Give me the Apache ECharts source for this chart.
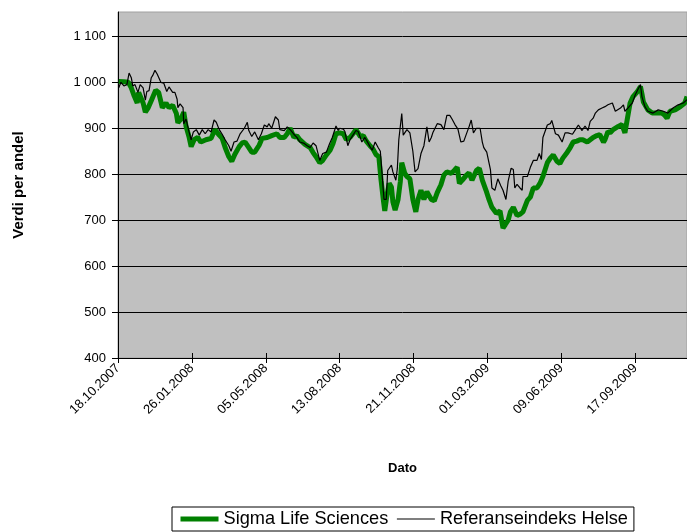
<!DOCTYPE html>
<html>
<head>
<meta charset="utf-8">
<script src="https://cdn.jsdelivr.net/npm/echarts@6/dist/echarts.min.js"></script>
<style>
html,body{margin:0;padding:0;background:#fff;}
#chart{width:687px;height:532px;}
</style>
</head>
<body>
<div id="chart"></div>
<script>
// Start date of the x axis; x values are days since this date
const startDate = Date.UTC(2007, 9, 18);

// Sigma Life Sciences
const sigmaDays = [1,8,14,18,22,26,28,34,37,41,45,51,55,60,65,69,74,79,81,85,89,92,96,99,103,108,112,119,126,131,137,141,145,150,154,158,164,168,172,177,181,185,191,195,202,208,215,219,225,229,233,238,242,246,253,260,264,268,273,277,282,287,291,295,300,305,309,314,318,322,328,332,336,341,345,349,353,356,359,361,364,367,370,372,375,379,382,384,388,391,395,399,403,406,410,414,418,424,428,432,437,441,445,451,455,459,462,466,471,475,479,485,489,493,498,502,506,512,517,521,524,528,531,535,540,544,548,554,558,562,567,571,575,581,585,589,594,598,602,608,612,616,621,625,629,635,639,643,648,652,657,659,663,666,670,677,682,686,689,693,697,703,707,709,711,717,723,730,736,740,743,747,754,761,767,770];
const sigmaValues = [1002,1001,1000,988,970,955,978,955,935,945,960,983,978,945,955,945,950,932,912,920,935,905,882,860,875,880,870,875,878,897,885,878,858,838,828,843,860,868,870,858,848,848,863,878,880,884,888,880,880,888,900,880,884,875,865,858,847,838,825,830,842,852,867,888,890,888,875,880,888,897,882,884,872,862,855,843,838,787,745,720,755,780,772,740,722,745,783,825,802,795,790,745,718,745,765,745,762,745,742,760,777,798,805,802,808,815,780,787,797,803,787,808,813,787,765,745,728,715,720,683,690,700,718,728,710,713,718,743,750,770,770,780,795,825,835,842,828,823,835,848,858,870,872,875,875,870,875,880,884,886,870,875,893,890,897,904,908,890,918,955,969,980,991,975,957,940,933,933,933,928,922,937,940,947,955,969];

// Referanseindeks Helse
const refDays = [1,4,8,12,15,18,20,23,27,30,34,37,39,42,45,47,50,53,55,58,62,66,69,74,77,80,81,84,88,89,92,96,99,102,106,110,114,118,122,126,130,133,137,141,145,150,153,157,161,165,171,175,177,181,185,190,194,198,202,204,208,213,217,219,225,229,233,238,242,246,252,256,260,264,268,273,277,282,286,290,295,298,300,305,307,311,314,318,322,325,330,334,337,341,344,348,352,355,357,360,363,365,370,372,376,378,380,384,386,388,391,395,399,402,406,410,414,418,421,424,426,432,437,441,445,449,452,456,460,464,468,472,475,478,481,485,487,490,493,495,499,504,506,510,514,518,521,525,528,532,535,537,540,544,547,548,554,558,562,567,570,573,575,581,585,587,592,596,601,605,609,615,619,623,628,632,636,639,643,646,650,655,659,663,669,673,675,680,684,686,690,696,700,704,707,709,713,717,724,731,738,744,751,758,765,770];
const refValues = [988,1000,992,995,1020,1010,992,995,978,995,988,961,980,982,1010,1015,1026,1018,1022,1000,998,980,990,978,978,963,945,953,945,910,920,893,875,892,897,885,897,888,897,892,918,913,897,887,875,862,850,870,872,887,900,913,895,882,892,875,888,907,903,910,900,925,918,897,895,903,897,887,880,870,867,862,858,868,862,830,845,848,865,880,905,895,900,898,893,862,875,885,895,893,870,880,872,860,852,870,858,850,808,745,745,808,820,805,787,812,875,932,885,890,897,890,850,805,812,845,862,903,870,880,890,910,908,897,928,928,920,908,898,870,872,890,903,918,890,900,897,900,870,858,848,810,770,765,790,775,765,745,785,813,810,770,778,770,765,795,795,815,830,830,845,832,880,907,910,917,888,885,870,890,890,887,897,907,895,905,895,915,922,933,940,944,947,951,955,937,935,944,951,937,944,955,973,986,995,969,947,937,933,940,937,933,944,951,955,962];

// Axis ticks
const yTicks = [400,500,600,700,800,900,1000,1100];
const xMaxDay = 770;

function pairs(xs, ys){ return xs.map((x,i)=>[x, ys[i]]); }
function fmtDate(d){
  const t = new Date(startDate + d*86400000);
  const dd = String(t.getUTCDate()).padStart(2,'0');
  const mm = String(t.getUTCMonth()+1).padStart(2,'0');
  return dd + '.' + mm + '.' + t.getUTCFullYear();
}

const font = 'Liberation Sans, Arial, sans-serif';
const noSym = {color:'rgba(0,0,0,0)', borderColor:'rgba(0,0,0,0)', borderWidth:0};
const chart = echarts.init(document.getElementById('chart'), null, {renderer:'canvas'});
chart.setOption({
  animation: false,
  grid: {left:118, top:12, right:-1, bottom:174, show:true, backgroundColor:'#c0c0c0', borderColor:'#a0a0a0', borderWidth:1},
  legend: {
    left:172, top:507, orient:'horizontal',
    borderColor:'#000', borderWidth:1, padding:[3,6,3,6], itemGap:8,
    itemWidth:38, itemHeight:14,
    textStyle:{fontFamily:font, fontSize:18.2, color:'#000'},
    data:[
      {name:'Sigma Life Sciences', itemStyle:noSym, lineStyle:{color:'#008000', width:5}},
      {name:'Referanseindeks Helse', itemStyle:noSym, lineStyle:{color:'#000', width:1.2}}
    ]
  },
  xAxis: [{
    type:'value', min:0, max:xMaxDay, interval:100,
    name:'Dato', nameLocation:'middle', nameGap:104,
    nameTextStyle:{fontFamily:font, fontSize:13, fontWeight:'bold', color:'#000'},
    axisLine:{show:true, lineStyle:{color:'#000', width:1}},
    axisTick:{show:true, length:5, lineStyle:{color:'#000'}},
    splitLine:{show:false},
    axisLabel:{rotate:45, showMaxLabel:false, margin:8, fontFamily:font, fontSize:13, color:'#000', formatter:(v)=>fmtDate(v)}
  },{
    type:'value', min:0, max:xMaxDay, interval:100, position:'bottom',
    axisLine:{show:false}, axisLabel:{show:false}, splitLine:{show:false},
    axisTick:{show:true, inside:true, length:5, lineStyle:{color:'#000'}}
  }],
  yAxis: {
    type:'value', min:400, max:1153,
    name:'Verdi per andel', nameLocation:'middle', nameGap:92, nameRotate:90,
    nameTextStyle:{fontFamily:font, fontSize:15, fontWeight:'bold', color:'#000'},
    axisLine:{show:true, lineStyle:{color:'#000', width:1}},
    axisTick:{show:true, length:6, customValues:yTicks, lineStyle:{color:'#000'}},
    splitLine:{show:true, lineStyle:{color:'#000', width:1}},
    axisLabel:{customValues:yTicks, margin:12, fontFamily:font, fontSize:13, color:'#000',
      formatter:(v)=> v>=1000 ? Math.floor(v/1000)+' '+String(v%1000).padStart(3,'0') : String(v)}
  },
  series: [{
    name:'Sigma Life Sciences', type:'line', data:pairs(sigmaDays, sigmaValues),
    symbol:'none', lineStyle:{color:'#008000', width:5}, itemStyle:{color:'#008000'}, z:2
  },{
    name:'Referanseindeks Helse', type:'line', data:pairs(refDays, refValues),
    symbol:'none', lineStyle:{color:'#000', width:1.2}, itemStyle:{color:'#000'}, z:3
  }]
});
</script>
</body>
</html>
